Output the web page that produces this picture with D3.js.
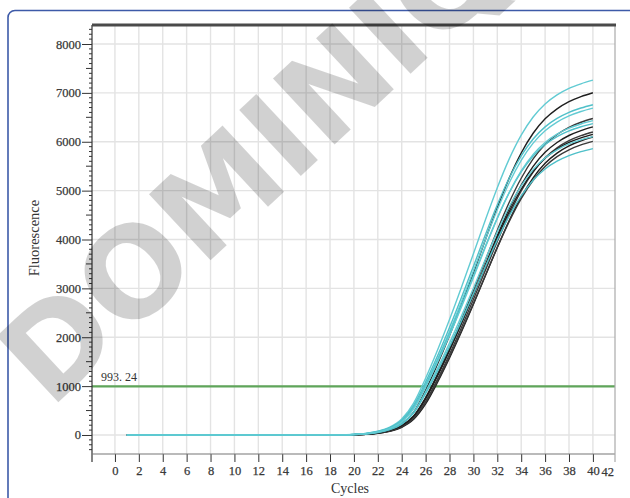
<!DOCTYPE html>
<html>
<head>
<meta charset="utf-8">
<script src="https://cdn.jsdelivr.net/npm/d3@7"></script>
<style>
  body { margin: 0; background: #fff; }
  svg { display: block; }
</style>
</head>
<body>
<svg id="chart" width="630" height="498"></svg>
<script>
// cycle numbers at which values were read
const cycles = [1, 19, 20, 21, 22, 23, 24, 25, 26, 27, 28, 29, 30, 31, 32, 33, 34, 35, 36, 37, 38, 39, 40];

// teal wells
const teal1 = [0, 2, 13, 33, 77, 161, 326, 653, 1162, 1739, 2362, 3023, 3707, 4399, 5059, 5649, 6134, 6506, 6773, 6959, 7092, 7186, 7260];
const teal2 = [0, 2, 12, 30, 71, 150, 303, 608, 1082, 1619, 2199, 2814, 3450, 4095, 4709, 5258, 5710, 6056, 6304, 6477, 6601, 6690, 6758];
const teal3 = [0, 2, 11, 27, 64, 137, 277, 557, 1019, 1548, 2117, 2725, 3353, 3994, 4607, 5160, 5618, 5972, 6225, 6402, 6529, 6619, 6688];
const teal4 = [0, 2, 11, 29, 67, 142, 286, 573, 1020, 1527, 2073, 2653, 3253, 3861, 4440, 4958, 5384, 5710, 5944, 6107, 6224, 6307, 6372];
const teal5 = [0, 2, 9, 22, 53, 115, 231, 468, 884, 1362, 1879, 2432, 3004, 3591, 4156, 4670, 5098, 5430, 5670, 5836, 5956, 6039, 6104];
const teal6 = [0, 2, 8, 21, 51, 110, 222, 450, 848, 1308, 1804, 2335, 2884, 3447, 3990, 4483, 4894, 5213, 5443, 5602, 5717, 5798, 5860];
const teal7 = [0, 2, 10, 26, 62, 132, 266, 536, 980, 1488, 2036, 2620, 3224, 3840, 4430, 4962, 5402, 5742, 5986, 6156, 6278, 6364, 6431];

// dark wells
const dark1 = [0, 2, 8, 21, 51, 114, 228, 466, 914, 1452, 2038, 2667, 3320, 3995, 4652, 5258, 5770, 6174, 6469, 6674, 6822, 6924, 7003];
const dark2 = [0, 1, 7, 17, 41, 93, 189, 386, 760, 1245, 1779, 2354, 2955, 3576, 4190, 4761, 5254, 5649, 5942, 6149, 6296, 6399, 6476];
const dark3 = [0, 1, 6, 16, 40, 91, 184, 375, 740, 1212, 1732, 2291, 2876, 3481, 4078, 4634, 5114, 5498, 5784, 5985, 6128, 6228, 6303];
const dark4 = [0, 1, 6, 15, 37, 83, 171, 347, 687, 1145, 1653, 2200, 2774, 3368, 3958, 4511, 4992, 5380, 5671, 5876, 6022, 6125, 6200];
const dark5 = [0, 1, 5, 13, 33, 76, 158, 320, 635, 1079, 1576, 2111, 2674, 3257, 3839, 4388, 4871, 5262, 5558, 5768, 5916, 6021, 6098];
const dark6 = [0, 1, 6, 14, 36, 81, 165, 337, 666, 1109, 1602, 2132, 2688, 3264, 3835, 4371, 4837, 5213, 5495, 5695, 5836, 5935, 6008];
const dark7 = [0, 1, 7, 17, 42, 94, 190, 388, 762, 1229, 1740, 2289, 2861, 3452, 4032, 4570, 5028, 5393, 5662, 5850, 5985, 6079, 6150];

const tealRuns = [teal1, teal2, teal3, teal4, teal5, teal6, teal7];
const darkRuns = [dark1, dark2, dark3, dark4, dark5, dark6, dark7];

const thresholdValue = 993.24;
const thresholdLabel = "993. 24";
const yTicks = [0, 1000, 2000, 3000, 4000, 5000, 6000, 7000, 8000];
const xTicks = [0, 2, 4, 6, 8, 10, 12, 14, 16, 18, 20, 22, 24, 26, 28, 30, 32, 34, 36, 38, 40];
const watermark = "DOMINIQUE";

const svg = d3.select("#chart");

// область графика
const margin = { left: 92, right: 615, top: 25, bottom: 454 };

const scaleX = d3.scaleLinear().domain([-1.92, 41.85]).range([margin.left, margin.right]);
const scaleY = d3.scaleLinear().domain([-389, 8389]).range([margin.bottom, margin.top]);

// рамка вокруг рисунка
svg.append("rect")
    .attr("x", 8).attr("y", 10.5)
    .attr("width", 700).attr("height", 600)
    .attr("rx", 7)
    .style("fill", "none")
    .style("stroke", "#3d5aa8")
    .style("stroke-width", 1.6);

// сетка
svg.append("g").selectAll("line")
    .data(xTicks)
    .enter().append("line")
    .attr("x1", d => scaleX(d)).attr("x2", d => scaleX(d))
    .attr("y1", margin.top).attr("y2", margin.bottom)
    .style("stroke", "#e3e3e3").style("stroke-width", 1.4);

svg.append("g").selectAll("line")
    .data(yTicks)
    .enter().append("line")
    .attr("x1", margin.left).attr("x2", margin.right)
    .attr("y1", d => scaleY(d)).attr("y2", d => scaleY(d))
    .style("stroke", "#e3e3e3").style("stroke-width", 1.4);

// порог
svg.append("line")
    .attr("x1", margin.left).attr("x2", margin.right)
    .attr("y1", scaleY(thresholdValue)).attr("y2", scaleY(thresholdValue))
    .style("stroke", "#5fa55a").style("stroke-width", 2.2);

svg.append("text")
    .attr("x", 101).attr("y", scaleY(thresholdValue) - 5)
    .style("font-family", "'Liberation Serif', serif")
    .style("font-size", "12px")
    .style("fill", "#333")
    .text(thresholdLabel);

// кривые
const line = d3.line()
    .x((d, i) => scaleX(cycles[i]))
    .y(d => scaleY(d))
    .curve(d3.curveMonotoneX);

svg.append("g").selectAll("path")
    .data(darkRuns)
    .enter().append("path")
    .attr("d", line)
    .style("fill", "none")
    .style("stroke", (d, i) => i % 2 ? "#3a3a3a" : "#1e1e1e")
    .style("stroke-width", 1.4);

svg.append("g").selectAll("path")
    .data(tealRuns)
    .enter().append("path")
    .attr("d", line)
    .style("fill", "none")
    .style("stroke", (d, i) => i % 2 ? "#4fc0c9" : "#62cbd3")
    .style("stroke-width", 1.4);

// оси
const yAxis = d3.axisLeft(scaleY).tickValues(yTicks).tickSize(10).tickPadding(1).tickFormat(d3.format("d"));
const gy = svg.append("g")
    .attr("transform", `translate(${margin.left},0)`)
    .call(yAxis);
gy.select(".domain").remove();

const minorY = d3.range(-300, 8400, 100).filter(v => v % 1000 !== 0);
svg.append("g").selectAll("line")
    .data(minorY)
    .enter().append("line")
    .attr("x1", d => margin.left - (d % 500 === 0 ? 6 : 3)).attr("x2", margin.left)
    .attr("y1", d => scaleY(d)).attr("y2", d => scaleY(d))
    .style("stroke", "#333").style("stroke-width", 1);

const xAxis = d3.axisBottom(scaleX).tickValues(xTicks).tickSize(8).tickPadding(4).tickFormat(d3.format("d"));
const gx = svg.append("g")
    .attr("transform", `translate(0,${margin.bottom})`)
    .call(xAxis);
gx.select(".domain").remove();

svg.append("text")
    .attr("x", margin.right - 1).attr("y", margin.bottom + 22)
    .attr("text-anchor", "end")
    .attr("class", "tick-label")
    .text("42");

svg.selectAll(".tick text, .tick-label")
    .style("font-family", "'Liberation Serif', serif")
    .style("font-size", "12.5px")
    .style("fill", "#333")
    .style("stroke", "#444")
    .style("stroke-width", 0.25);
svg.selectAll(".tick line").style("stroke", "#333");

// рамка области графика
svg.append("line")
    .attr("x1", margin.left).attr("x2", margin.left)
    .attr("y1", margin.top).attr("y2", margin.bottom + 8)
    .style("stroke", "#333").style("stroke-width", 1.2);
svg.append("line")
    .attr("x1", margin.left).attr("x2", margin.right)
    .attr("y1", margin.bottom).attr("y2", margin.bottom)
    .style("stroke", "#777").style("stroke-width", 1.2);
svg.append("line")
    .attr("x1", margin.right).attr("x2", margin.right)
    .attr("y1", margin.top).attr("y2", margin.bottom + 8)
    .style("stroke", "#aaa").style("stroke-width", 1.2);
svg.append("line")
    .attr("x1", margin.left).attr("x2", margin.right + 1)
    .attr("y1", margin.top).attr("y2", margin.top)
    .style("stroke", "#4a4a4a").style("stroke-width", 3);

// подписи осей
svg.append("text")
    .attr("x", 350).attr("y", 493)
    .attr("text-anchor", "middle")
    .style("font-family", "'Liberation Serif', serif")
    .style("font-size", "14px")
    .style("fill", "#333")
    .text("Cycles");

svg.append("text")
    .attr("transform", "translate(39,238) rotate(-90)")
    .attr("text-anchor", "middle")
    .style("font-family", "'Liberation Serif', serif")
    .style("font-size", "14.5px")
    .style("fill", "#333")
    .text("Fluorescence");

// водяной знак
svg.append("text")
    .attr("transform", "translate(50,410) rotate(-43)")
    .style("font-family", "'DejaVu Sans', sans-serif")
    .style("font-weight", "bold")
    .style("font-size", "124px")
    .style("fill", "#000")
    .style("fill-opacity", 0.18)
    .text(watermark);
</script>
</body>
</html>
